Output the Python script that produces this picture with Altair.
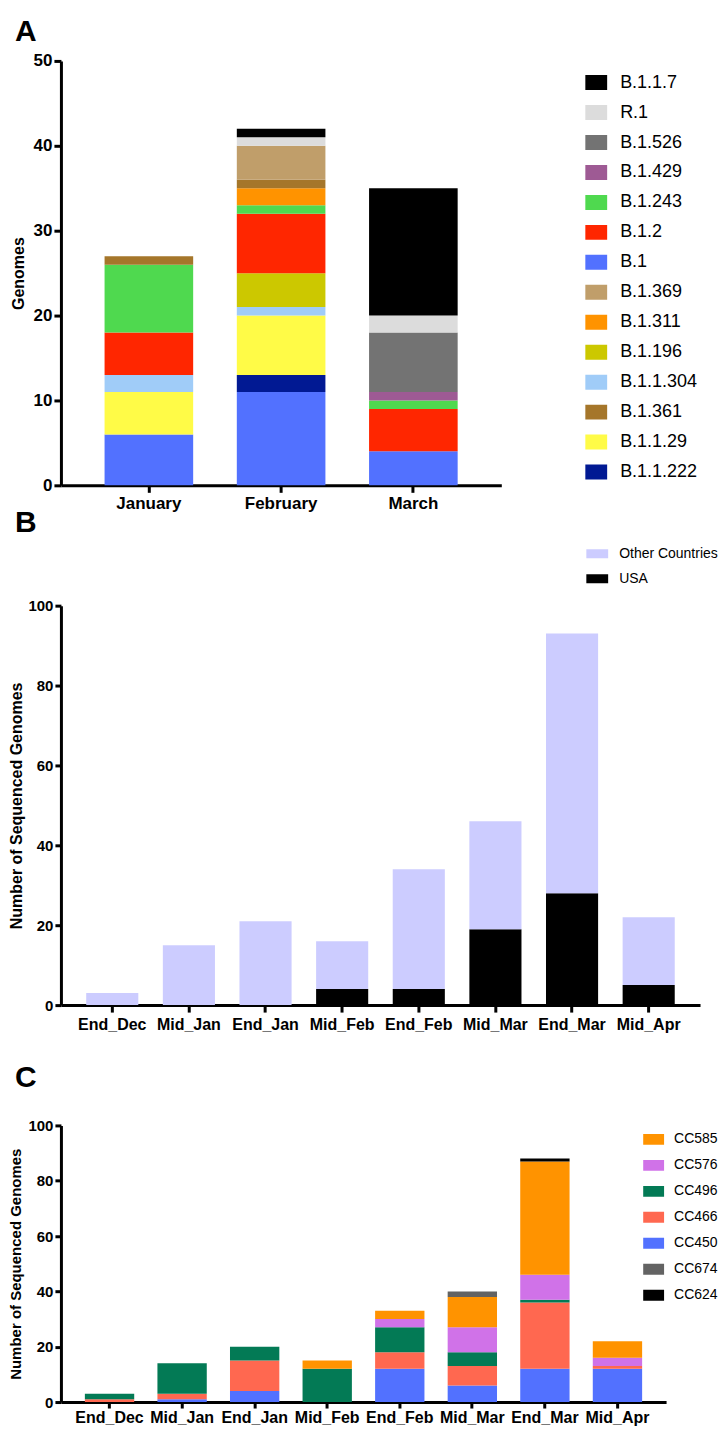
import altair as alt
import pandas as pd

FONT = "Liberation Sans"

# ---------------- Panel A data ----------------
months = ["January", "February", "March"]
# stacking order, bottom -> top
lineage_stack = ["B.1", "B.1.1.222", "B.1.1.29", "B.1.1.304", "B.1.196", "B.1.2",
                 "B.1.243", "B.1.311", "B.1.361", "B.1.369", "B.1.429", "B.1.526",
                 "R.1", "B.1.1.7"]
jan_counts = [6, 0, 5, 2, 0, 5, 8, 0, 1, 0, 0, 0, 0, 0]
feb_counts = [11, 2, 7, 1, 4, 7, 1, 2, 1, 4, 0, 0, 1, 1]
mar_counts = [4, 0, 0, 0, 0, 5, 1, 0, 0, 0, 1, 7, 2, 15]
lineage_legend = ["B.1.1.7", "R.1", "B.1.526", "B.1.429", "B.1.243", "B.1.2", "B.1",
                  "B.1.369", "B.1.311", "B.1.196", "B.1.1.304", "B.1.361", "B.1.1.29",
                  "B.1.1.222"]
lineage_colors = ["#000000", "#DCDCDC", "#737373", "#9E5A94", "#4FD94F", "#FF2600",
                  "#5271FF", "#C09E6A", "#FF9300", "#CCC800", "#A0CCF8", "#A5762A",
                  "#FFFB47", "#011993"]

# ---------------- Panel B data ----------------
periods = ["End_Dec", "Mid_Jan", "End_Jan", "Mid_Feb", "End_Feb", "Mid_Mar", "End_Mar", "Mid_Apr"]
usa_counts = [0, 0, 0, 4, 4, 19, 28, 5]
other_counts = [3, 15, 21, 12, 30, 27, 65, 17]
origin_legend = ["Other Countries", "USA"]
origin_colors = ["#CCCCFF", "#000000"]

# ---------------- Panel C data ----------------
cc_stack = ["CC450", "CC466", "CC496", "CC576", "CC585", "CC674", "CC624"]
cc450 = [0, 1, 4, 0, 12, 6, 12, 12]
cc466 = [1, 2, 11, 0, 6, 7, 24, 1]
cc496 = [2, 11, 5, 12, 9, 5, 1, 0]
cc576 = [0, 0, 0, 0, 3, 9, 9, 3]
cc585 = [0, 0, 0, 3, 3, 11, 41, 6]
cc674 = [0, 0, 0, 0, 0, 2, 0, 0]
cc624 = [0, 0, 0, 0, 0, 0, 1, 0]
cc_legend = ["CC585", "CC576", "CC496", "CC466", "CC450", "CC674", "CC624"]
cc_colors = ["#FF9300", "#D072E8", "#037A55", "#FF6850", "#5271FF", "#636363", "#000000"]

# ---------------- tables ----------------
rows = []
for m, counts in zip(months, [jan_counts, feb_counts, mar_counts]):
    for r, (lin, c) in enumerate(zip(lineage_stack, counts)):
        if c > 0:
            rows.append({"month": m, "lineage": lin, "count": c, "rank": r})
df_a = pd.DataFrame(rows)

rows = []
for p, u, o in zip(periods, usa_counts, other_counts):
    if u > 0:
        rows.append({"period": p, "origin": "USA", "count": u, "rank": 0})
    if o > 0:
        rows.append({"period": p, "origin": "Other Countries", "count": o, "rank": 1})
df_b = pd.DataFrame(rows)

rows = []
cc_series = [cc450, cc466, cc496, cc576, cc585, cc674, cc624]
for r, (name, vals) in enumerate(zip(cc_stack, cc_series)):
    for p, v in zip(periods, vals):
        if v > 0:
            rows.append({"period": p, "cc": name, "count": v, "rank": r})
df_c = pd.DataFrame(rows)


def rect_path(ratio):
    return f"M-1,-{ratio}H1V{ratio}H-1Z"


def panel_title(letter, offset):
    return alt.TitleParams(text=letter, anchor="start", frame="group", dx=-46,
                           fontSize=30, fontWeight="bold", baseline="alphabetic",
                           offset=offset, color="black", font=FONT)


# ---------------- Panel A ----------------
chart_a = alt.Chart(df_a).mark_bar().encode(
    x=alt.X("month:N", sort=months,
            scale=alt.Scale(paddingInner=0.33, paddingOuter=0.33),
            axis=alt.Axis(title=None, labelAngle=0, labelFontSize=17,
                          labelPadding=3, tickSize=7)),
    y=alt.Y("count:Q", stack="zero",
            scale=alt.Scale(domain=[0, 50], nice=False),
            axis=alt.Axis(values=[0, 10, 20, 30, 40, 50], title="Genomes",
                          titleFontSize=16, titleX=-34, titleY=212.5,
                          titleAngle=270, titleBaseline="bottom", titleAlign="center",
                          labelFontSize=17, labelPadding=2, tickSize=7)),
    color=alt.Color("lineage:N",
                    scale=alt.Scale(domain=lineage_legend, range=lineage_colors),
                    legend=alt.Legend(title=None, orient="none", legendX=525, legendY=6.7,
                                      symbolType=rect_path(0.68), symbolSize=484,
                                      symbolStrokeWidth=0, symbolOpacity=1,
                                      labelFontSize=18, labelFont=FONT, labelColor="black",
                                      labelOffset=13, clipHeight=30, rowPadding=0,
                                      labelLimit=300)),
    order=alt.Order("rank:Q", sort="ascending"),
).properties(width=441, height=425, title=panel_title("A", -19))

# ---------------- Panel B ----------------
chart_b = alt.Chart(df_b).mark_bar().encode(
    x=alt.X("period:N", sort=periods,
            scale=alt.Scale(paddingInner=0.32, paddingOuter=0.33),
            axis=alt.Axis(title=None, labelAngle=0, labelFontSize=16,
                          labelPadding=4, tickSize=7)),
    y=alt.Y("count:Q", stack="zero",
            scale=alt.Scale(domain=[0, 100], nice=False),
            axis=alt.Axis(values=[0, 20, 40, 60, 80, 100],
                          title="Number of Sequenced Genomes",
                          titleFontSize=16, titleX=-36, titleY=200,
                          titleAngle=270, titleBaseline="bottom", titleAlign="center",
                          labelFontSize=15, labelPadding=2, tickSize=6)),
    color=alt.Color("origin:N",
                    scale=alt.Scale(domain=origin_legend, range=origin_colors),
                    legend=alt.Legend(title=None, orient="none", legendX=526, legendY=-64.5,
                                      symbolType=rect_path(0.41), symbolSize=484,
                                      symbolStrokeWidth=0, symbolOpacity=1,
                                      labelFontSize=14, labelFont=FONT, labelColor="black",
                                      labelOffset=11, clipHeight=25, rowPadding=0,
                                      labelLimit=300)),
    order=alt.Order("rank:Q", sort="ascending"),
).properties(width=640, height=400, title=panel_title("B", -20.5))

# ---------------- Panel C ----------------
chart_c = alt.Chart(df_c).mark_bar().encode(
    x=alt.X("period:N", sort=periods,
            scale=alt.Scale(paddingInner=0.32, paddingOuter=0.33),
            axis=alt.Axis(title=None, labelAngle=0, labelFontSize=16,
                          labelPadding=1, tickSize=6)),
    y=alt.Y("count:Q", stack="zero",
            scale=alt.Scale(domain=[0, 100], nice=False),
            axis=alt.Axis(values=[0, 20, 40, 60, 80, 100],
                          title="Number of Sequenced Genomes",
                          titleFontSize=15, titleX=-37, titleY=138.5,
                          titleAngle=270, titleBaseline="bottom", titleAlign="center",
                          labelFontSize=15, labelPadding=2, tickSize=6)),
    color=alt.Color("cc:N",
                    scale=alt.Scale(domain=cc_legend, range=cc_colors),
                    legend=alt.Legend(title=None, orient="none", legendX=583, legendY=1,
                                      symbolType=rect_path(0.52), symbolSize=441,
                                      symbolStrokeWidth=0, symbolOpacity=1,
                                      labelFontSize=14, labelFont=FONT, labelColor="black",
                                      labelOffset=10, clipHeight=26, rowPadding=0,
                                      labelLimit=300)),
    order=alt.Order("rank:Q", sort="ascending"),
).properties(width=606, height=277, title=panel_title("C", 1.5))

chart = alt.vconcat(chart_a, chart_b, chart_c, spacing=120.5, bounds="flush").resolve_scale(
    color="independent"
).resolve_legend(color="independent").properties(
    padding={"left": 0, "top": 8, "right": 0, "bottom": 0}
).configure_axis(
    domainColor="black", domainWidth=3, tickColor="black", tickWidth=3,
    labelColor="black", labelFont=FONT, labelFontWeight="bold",
    titleFont=FONT, titleFontWeight="bold", titleColor="black", grid=False,
).configure_view(strokeWidth=0).configure_legend(labelFont=FONT)

chart.save("out.html", embed_options={"renderer": "svg", "actions": False})
